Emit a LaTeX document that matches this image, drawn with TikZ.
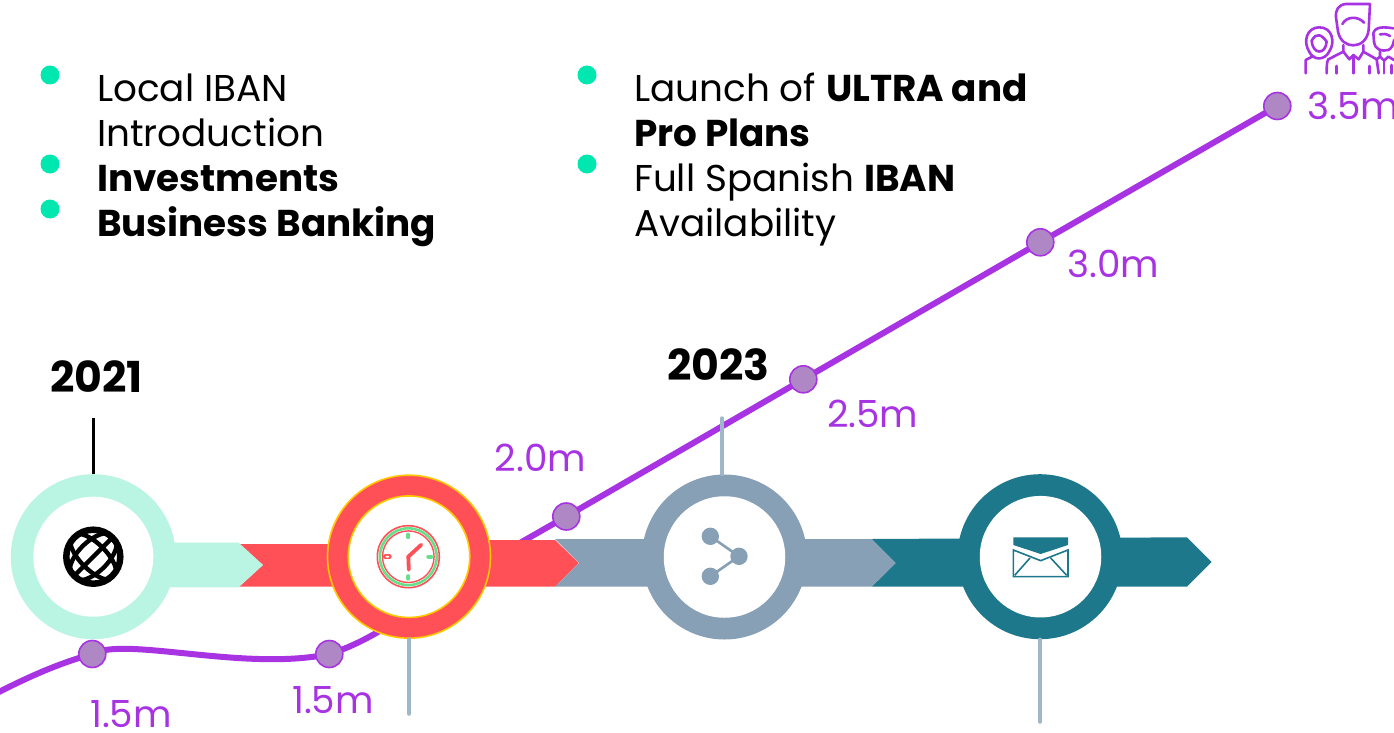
\documentclass[tikz,border=0pt]{standalone}
\usepackage{fontspec}
\usetikzlibrary{backgrounds}
\setmainfont{Poppins}
\definecolor{mint}{HTML}{BAF5E3}
\definecolor{bulletmint}{HTML}{00E8B0}
\definecolor{coral}{HTML}{FF5058}
\definecolor{amber}{HTML}{FFC800}
\definecolor{steel}{HTML}{88A0B5}
\definecolor{teal2}{HTML}{1D788B}
\definecolor{paleline}{HTML}{9FB8C9}
\definecolor{violet2}{HTML}{A733E3}
\definecolor{dotfill}{HTML}{AE87C4}
\definecolor{clockgreen}{HTML}{66E08A}
\tikzset{
  ring/.style={circle,inner sep=0pt,minimum size=165pt,fill=#1},
  hole/.style={circle,inner sep=0pt,minimum size=121.5pt,fill=white},
  dotnode/.style={circle,inner sep=0pt,minimum size=27pt,fill=dotfill,draw=violet2,line width=1.6pt},
  bulletdot/.style={circle,inner sep=0pt,minimum size=19pt,fill=bulletmint},
  bodytext/.style={anchor=base west,inner sep=0pt,font=\fontsize{37.33}{45}\selectfont,text=black},
  yeartext/.style={anchor=base west,inner sep=0pt,font=\fontsize{42.67}{45}\selectfont\bfseries,text=black},
  valtext/.style={anchor=base west,inner sep=0pt,font=\fontsize{37.33}{45}\selectfont,text=violet2},
  stem/.style={line width=3.5pt,line cap=round,draw=paleline},
  zoomed/.style={x=0.3333pt,y=-0.3333pt}
}
\begin{document}
\begin{tikzpicture}[x=1pt,y=-1pt]
\useasboundingbox (0,0) rectangle (1394,733);
\clip (0,0) rectangle (1394,733);
% markers on the growth line
\node[dotnode] (d1) at (92.3,654) {};
\node[dotnode] (d2) at (329.3,654) {};
\node[dotnode] (d3) at (566.3,516.5) {};
\node[dotnode] (d4) at (803.3,379.3) {};
\node[dotnode] (d5) at (1040.3,242.3) {};
\node[dotnode] (d6) at (1277.3,106) {};
\coordinate (lstart) at (-5,694);
\coordinate (lhidden) at (455,580);
% growth line
\begin{pgfonlayer}{background}
\draw[violet2,line width=6pt] (lstart) .. controls (30,676) and (60,663) .. (d1.center)
  .. controls (125,636) and (245,672) .. (d2.center)
  .. controls (365,643) and (400,620) .. (lhidden) -- (d3.center) -- (d4.center) -- (d5.center) -- (d6.center);
\end{pgfonlayer}
% arrows, back to front
\fill[teal2] (871.7,539) -- (1187,537.3) -- (1211.7,562) -- (1187,586.7) -- (871.7,586.7) -- (895.7,563) -- cycle;
\fill[steel] (555,539) -- (871.7,539) -- (895.7,563) -- (871.7,586.7) -- (555,586.7) -- (579,563) -- cycle;
\fill[coral] (238.7,544) -- (400,544) -- (400,540) -- (555,540) -- (578.7,563) -- (555,586.7) -- (238.7,586.7) -- (263,565) -- cycle;
\fill[mint] (170,542.7) -- (238.7,542.7) -- (263,565) -- (238.7,587.3) -- (170,587.3) -- cycle;
% rings
\node[ring=mint] (r1) at (93.3,556.7) {};
\node[hole,minimum size=120pt] (h1) at (93.3,556.7) {};
\node[ring=coral,draw=amber,line width=1.6pt,minimum size=163pt] (r2) at (409,556.7) {};
\node[hole,draw=amber,line width=1.6pt] (h2) at (409,556.7) {};
\node[ring=steel] (r3) at (724.5,557) {};
\node[hole] (h3) at (724.5,557) {};
\node[ring=teal2] (r4) at (1040,556.7) {};
\node[hole] (h4) at (1040.5,556.7) {};
% stems
\coordinate (s1) at (93.5,418);
\coordinate (s2) at (409,714);
\coordinate (s3) at (722,418);
\coordinate (s4) at (1040,722);
\draw[line width=3pt,black] (s1) -- (s1 |- r1.north);
\draw[stem] (s2) -- (s2 |- r2.south);
\draw[stem] (s3) -- (s3 |- r3.north);
\draw[stem] (s4) -- (s4 |- r4.south);
% globe icon
\begin{scope}[shift={(93.3,556.7)}]
\begin{scope}
\clip (0,0) circle (28pt);
\begin{scope}[rotate=45,line width=4.4pt,black]
\draw (-30pt,0) -- (30pt,0);
\draw (0,0) ellipse [x radius=30pt,y radius=15pt];
\draw (0,0) ellipse [x radius=13pt,y radius=30pt];
\end{scope}
\end{scope}
\draw[black,line width=6.5pt] (0,0) circle (27pt);
\end{scope}
% clock icon
\begin{scope}[shift={(408.3,556.7)}]
\draw[coral,line width=1.6pt] (0,0) circle (31pt);
\draw[clockgreen,line width=2.6pt] (0,0) circle (28.4pt);
\draw[coral,line width=1.4pt] (0,0) circle (25.8pt);
\draw[clockgreen,line width=4pt,line cap=round] (0,-22) -- (0,-19.5) (0,19.5) -- (0,22) (20,0) -- (23,0);
\draw[coral,line width=4.6pt,line cap=round] (-23,0) -- (-19,0);
\fill[white] (-21,0) ellipse (2pt and 1pt);
\draw[coral,line width=3.8pt,line cap=round] (13,-12) -- (0,0) -- (0.5,13);
\end{scope}
% share icon
\begin{scope}
\coordinate (sa) at (710.3,536.3);
\coordinate (sb) at (739,556.3);
\coordinate (sc) at (710.3,576.3);
\fill[steel] (sa) circle (8.7pt) (sb) circle (8.7pt) (sc) circle (8.7pt);
\draw[steel,line width=2.6pt] (sa) -- (sb) -- (sc);
\end{scope}
% envelope icon
\begin{scope}[shift={(950,470)},zoomed]
\fill[teal2] (190,202) -- (354,202) -- (354,225) -- (272,252) -- (190,225) -- cycle;
\draw[teal2,line width=1.6pt,line join=miter] (190,240) -- (190,320) -- (354,320) -- (354,240) -- (272,272) -- cycle;
\draw[teal2,line width=1.6pt] (194,316) -- (240,264) (350,316) -- (302,264);
\end{scope}
% people icon
\begin{scope}[shift={(1260,0)},zoomed,violet2,line width=2.6pt,line cap=round,line join=round]
\draw (330,12) -- (258,12) .. controls (235,14) and (226,30) .. (228,52) -- (234,95)
  .. controls (240,125) and (262,136) .. (280,136) .. controls (302,136) and (322,120) .. (326,90) -- (330,12);
\draw (247,72) .. controls (260,48) and (295,48) .. (312,68);
\draw (250,135) -- (250,155) -- (205,178) .. controls (200,185) and (200,200) .. (200,220);
\draw (310,135) -- (310,155) -- (350,178) -- (356,220);
\draw (250,155) -- (268,178) -- (280,165) -- (296,178) -- (310,155);
\draw (280,165) -- (280,220);
\draw (229,198) -- (229,220) (328,198) -- (328,220);
\draw (148,156) .. controls (128,125) and (140,82) .. (178,82) .. controls (218,82) and (226,128) .. (208,154);
\draw (155,122) .. controls (158,165) and (197,165) .. (200,125);
\draw (155,122) .. controls (170,95) and (185,105) .. (200,125);
\draw (148,156) .. controls (160,182) and (195,182) .. (208,154);
\draw (160,168) -- (137,180) -- (137,220);
\draw (342,125) -- (340,100) .. controls (345,80) and (370,80) .. (400,85);
\draw (342,125) .. controls (345,150) and (365,155) .. (385,150) .. controls (395,145) and (400,135) .. (402,120);
\draw (360,103) .. controls (370,100) and (380,102) .. (390,108);
\draw (360,155) -- (360,170) -- (350,178);
\draw (360,170) -- (372,182) -- (385,170) -- (402,180);
\draw (372,182) -- (372,220) (395,195) -- (395,220);
\end{scope}
% bullets
\node[bulletdot] (b1) at (50,75) {};
\node[bulletdot] (b2) at (50,164) {};
\node[bulletdot] (b3) at (50,209) {};
\node[bulletdot] (b4) at (587,75) {};
\node[bulletdot] (b5) at (587,164) {};
% text
\node[bodytext] (t1) at (97,101.7) {Local IBAN};
\node[bodytext] (t2) at (97,146.7) {Introduction};
\node[bodytext] (t3) at (97,191) {\textbf{Investments}};
\node[bodytext] (t4) at (97,236) {\textbf{Business Banking}};
\node[bodytext] (t5) at (634,101.7) {Launch of \textbf{ULTRA and}};
\node[bodytext] (t6) at (634,146.7) {\textbf{Pro Plans}};
\node[bodytext] (t7) at (634,191) {Full Spanish \textbf{IBAN}};
\node[bodytext] (t8) at (634,236) {Availability};
\node[yeartext] (y1) at (50,392) {2021};
\node[yeartext] (y2) at (667,380) {2023};
\node[valtext] (v1) at (90,727) {1.5m};
\node[valtext] (v2) at (292,713) {1.5m};
\node[valtext] (v3) at (494.5,471) {2.0m};
\node[valtext] (v4) at (827,427) {2.5m};
\node[valtext] (v5) at (1067,277) {3.0m};
\node[valtext] (v6) at (1307,120) {3.5m};
\end{tikzpicture}
\end{document}
